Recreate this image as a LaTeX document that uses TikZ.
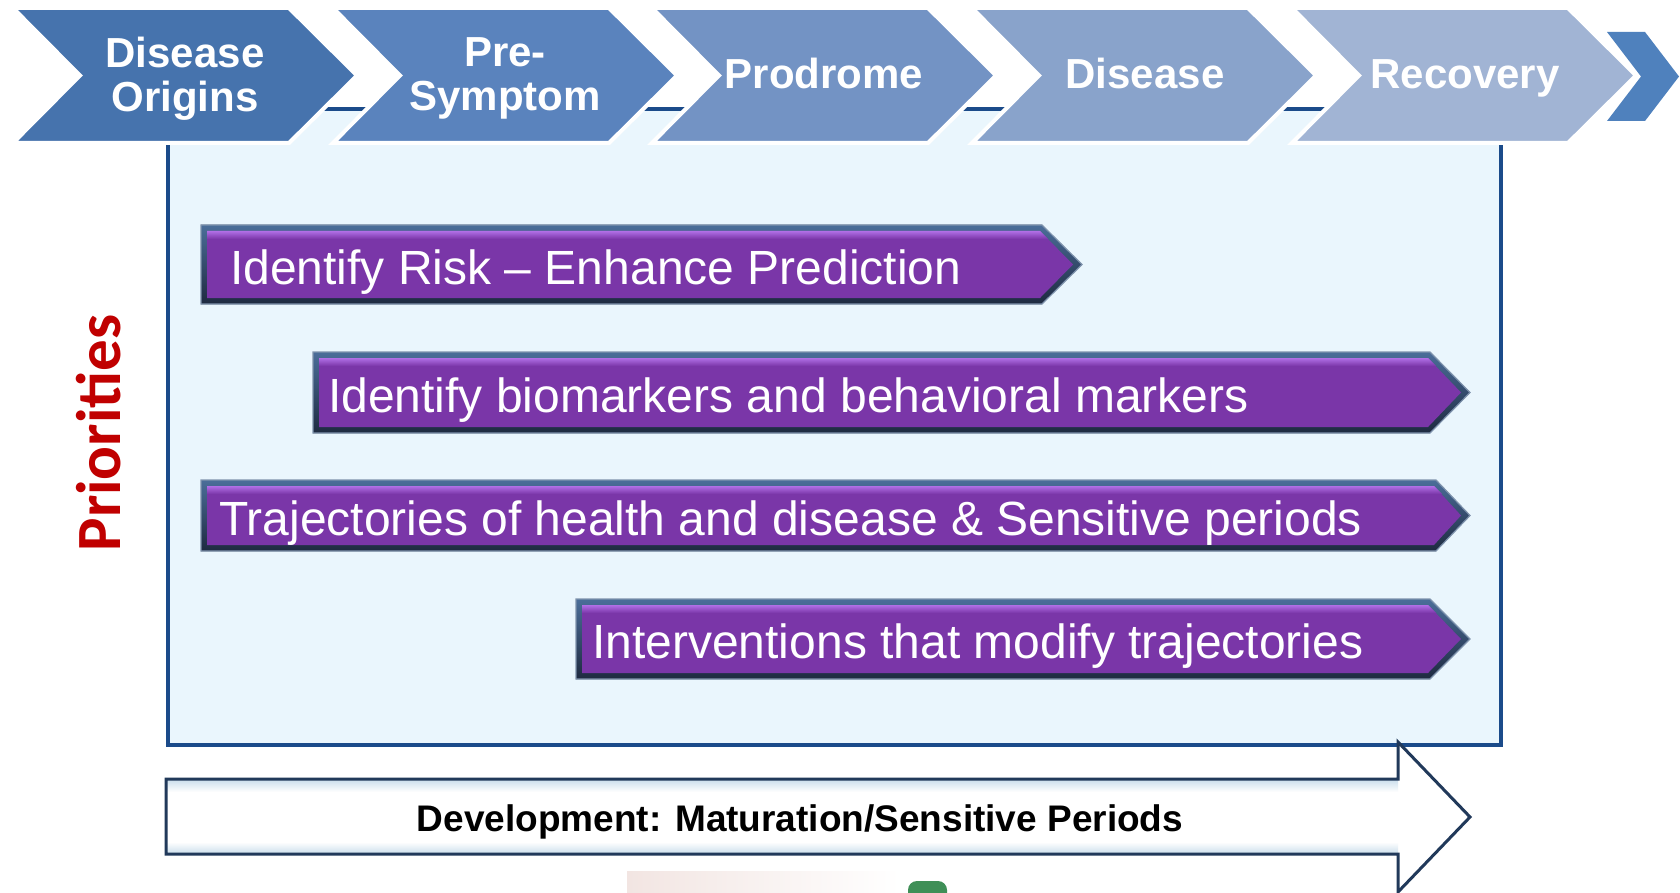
\documentclass[tikz,border=0pt]{standalone}
\usepackage{fontspec}
\setmainfont{Liberation Sans}
\newfontfamily\carl{Carlito}
\definecolor{cA}{HTML}{4673AD}
\definecolor{cB}{HTML}{5A83BD}
\definecolor{cC}{HTML}{7393C4}
\definecolor{cD}{HTML}{89A3CB}
\definecolor{cE}{HTML}{A1B4D4}
\definecolor{cF}{HTML}{4F81BD}
\definecolor{boxfill}{HTML}{EAF6FD}
\definecolor{boxline}{HTML}{1B4B8A}
\definecolor{pedgetop}{HTML}{4B6E99}
\definecolor{pedgebot}{HTML}{1E2A40}
\definecolor{poutline}{HTML}{7F93AD}
\definecolor{pbody}{HTML}{7A36A8}
\definecolor{phigh}{HTML}{B16FE6}
\definecolor{prio}{HTML}{C00000}
\definecolor{devline}{HTML}{21395A}
\definecolor{devband}{HTML}{C9DDEB}
\definecolor{pinkc}{HTML}{F2E5E2}
\definecolor{greenc}{HTML}{3F8F57}
\newcommand\chevshape[2]{%
  \filldraw[fill=#2,draw=white,line width=4pt,line join=miter]
    (#1,8) -- (#1+276,8) -- (#1+344,75.5) -- (#1+276,143) -- (#1,143) -- (#1+67,75.5) -- cycle;}
\newcommand\purpleshape[5]{% x0 flat tip ytop ybot
  \pgfmathsetmacro\ymid{(#4+#5)/2}
  \filldraw[top color=pedgetop,bottom color=pedgebot,draw=poutline,line width=1.2pt]
    (#1,#4) -- (#2,#4) -- (#3,\ymid) -- (#2,#5) -- (#1,#5) -- cycle;
  \fill[pbody] (#1+6,#4+6) -- (#2-2,#4+6) -- (#3-9,\ymid) -- (#2-2,#5-6) -- (#1+6,#5-6) -- cycle;
  \shade[top color=phigh,bottom color=pbody]
    (#1+6,#4+6) -- (#2-2,#4+6) -- (#2+6,#4+14) -- (#1+6,#4+14) -- cycle;}
\tikzset{
  chevtxt/.style={text=white,font=\bfseries\fontsize{42}{44}\selectfont,inner sep=0pt},
  ptxt/.style={text=white,font=\fontsize{48}{56}\selectfont,anchor=base west,inner sep=0pt},
}
\begin{document}
\begin{tikzpicture}[x=1pt,y=-1pt]
\useasboundingbox (0,0) rectangle (1680,893);
\fill[white] (0,0) rectangle (1680,893);
% light blue frame
\draw[fill=boxfill,draw=boxline,line width=3.5pt] (168,109) rectangle (1501,745);
% chevrons
\chevshape{13}{cA}
\chevshape{333}{cB}
\chevshape{652}{cC}
\chevshape{972}{cD}
\chevshape{1292}{cE}
\fill[cF] (1607,32) -- (1645,32) -- (1679,76.5) -- (1645,121) -- (1607,121) -- (1641,76.5) -- cycle;
\node[chevtxt,align=center] (origins) at (185,79) {Disease\\Origins};
\node[chevtxt,align=center] (presym) at (505,78) {Pre-\\Symptom};
\node[chevtxt,anchor=base] (prodrome) at (824,89) {Prodrome};
\node[chevtxt,anchor=base] (disease) at (1145,89) {Disease};
\node[chevtxt,anchor=base] (recovery) at (1465,89) {Recovery};
% priorities
\node[rotate=90,anchor=base,text=prio,font=\carl\bfseries\fontsize{63}{70}\selectfont,inner sep=0pt] (prio) at (120,433) {Priorities};
% purple arrows
\purpleshape{201}{1042}{1082}{225}{304}
\purpleshape{313}{1430}{1470}{352}{433}
\purpleshape{201}{1436}{1470}{480}{551}
\purpleshape{576}{1430}{1470}{599}{679}
\node[ptxt] (risk) at (230,284) {Identify Risk – Enhance Prediction};
\node[ptxt] (bio) at (328,412) {Identify biomarkers and behavioral markers};
\node[ptxt] (traj) at (219,535) {Trajectories of health and disease \& Sensitive periods};
\node[ptxt] (interv) at (592,658) {Interventions that modify trajectories};
% bottom cut-off pictures
\shade[left color=pinkc,right color=white] (627,871) rectangle (900,900);
\fill[greenc,rounded corners=9pt] (908,905) -- (908,881) -- (947,881) -- (947,905) -- cycle;
% development arrow
\fill[white] (166,779) -- (1398,779) -- (1398,742) -- (1470,817) -- (1398,892) -- (1398,854) -- (166,854) -- cycle;
\shade[top color=devband,bottom color=white] (166,779) rectangle (1398,792);
\shade[top color=white,bottom color=devband] (166,842) rectangle (1398,854);
\draw[devline,line width=3pt,line join=miter] (166,779) -- (1398,779) -- (1398,742) -- (1470,817) -- (1398,892) -- (1398,854) -- (166,854) -- cycle;
\node[font=\bfseries\fontsize{37}{40}\selectfont,anchor=base,inner sep=0pt] (dev) at (800,831) {Development: Maturation/Sensitive Periods};
\end{tikzpicture}
\end{document}
